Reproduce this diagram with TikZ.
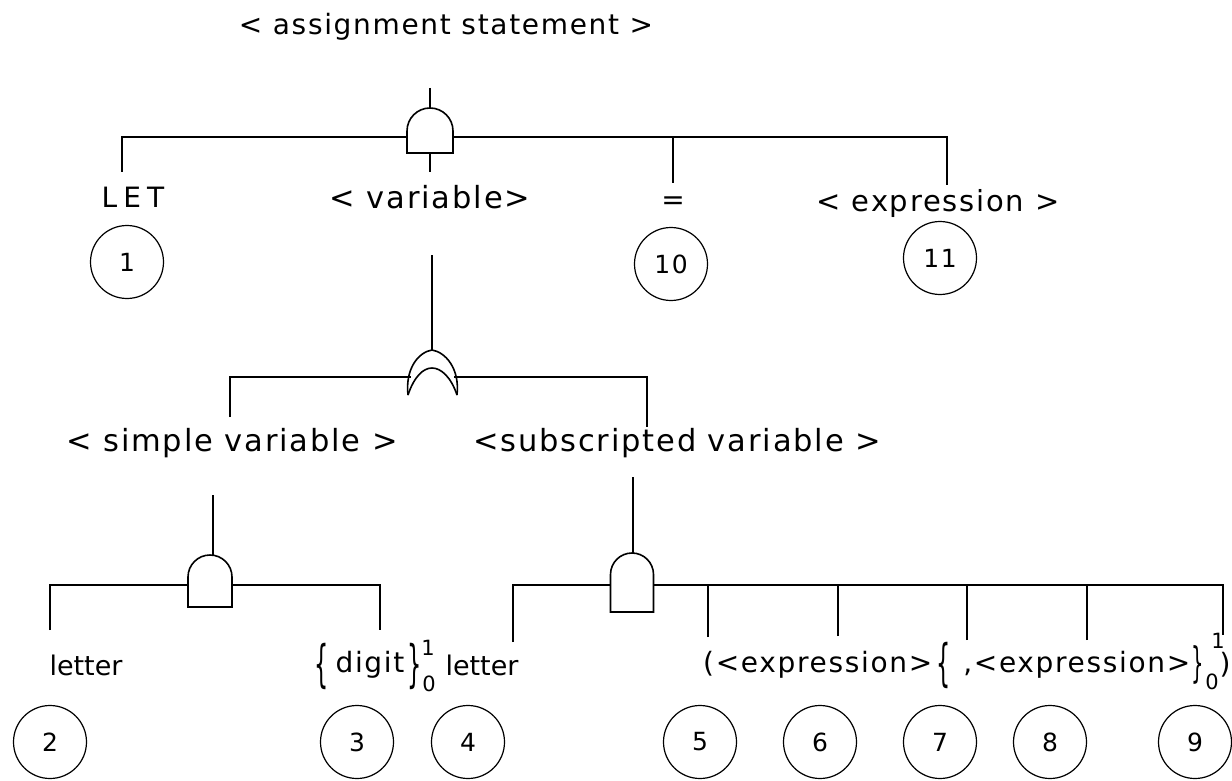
\documentclass[tikz,border=0pt]{standalone}
\usepackage{fontspec}
\setmainfont{DejaVu Sans}[LetterSpace=6]
\newfontfamily\wideface{DejaVu Sans}[LetterSpace=22]
\newfontfamily\tightface{DejaVu Sans}
\newcommand{\andgt}[4]{%
  \draw[gate] ({#1-#4},#3) -- ({#1-#4},{#2+#4})
    .. controls ({#1-#4},{#2+0.448*#4}) and ({#1-0.552*#4},#2) .. (#1,#2)
    .. controls ({#1+0.552*#4},#2) and ({#1+#4},{#2+0.448*#4}) .. ({#1+#4},{#2+#4})
    -- ({#1+#4},#3) -- cycle;}
\begin{document}
\begin{tikzpicture}[x=1pt,y=-1pt,
  lbl/.style={inner sep=0pt, font=\fontsize{28}{32}\selectfont},
  lbltight/.style={inner sep=0pt, font=\fontsize{27}{31}\tightface},
  lblbig/.style={inner sep=0pt, font=\fontsize{30.5}{34}\selectfont},
  supsub/.style={inner sep=0pt, font=\fontsize{21}{24}\selectfont},
  bracechar/.style={inner sep=0pt, font=\fontsize{28}{32}\selectfont},
  num/.style={circle, draw, minimum size=73pt, inner sep=0pt, line width=1.2pt, font=\fontsize{25}{30}\selectfont},
  gate/.style={line width=1.6pt},
  wire/.style={line width=1.6pt}]
\useasboundingbox (0,0) rectangle (1232,781);
% ---------- labels ----------
\node[lbl] (title) at (446,27) {< assignment statement >};
\node[inner sep=0pt, font=\fontsize{28}{32}\wideface] (let) at (133,197) {LET};
\node[lblbig] (var) at (430,197) {< variable>};
\node[lbl] (eq) at (673,203) {=};
\node[inner sep=0pt, font=\fontsize{29}{33}\selectfont] (expr) at (938,203) {< expression >};
\node[num] (c1) at (127,262) {1};
\node[num] (c10) at (671,264) {10};
\node[num] (c11) at (940,258) {11};
\node[lblbig] (simple) at (232,443) {< simple variable >};
\node[lblbig] (subs) at (677,443) {<subscripted variable >};
% bottom row
\coordinate (rowb) at (0,665);
\node[lbltight] (letter1) at (86,665) {letter};
\node[bracechar] (db1) at (322,666) {\scalebox{0.8}[1.8]{\{}};
\node[lbl] (digit) at (370,665) {digit};
\node[bracechar] (db2) at (415,666) {\scalebox{0.8}[1.8]{\}}};
\node[supsub] (dsup) at (428,648) {1};
\node[supsub] (dsub) at (429,684) {0};
\node[lbltight] (letter2) at (482,665) {letter};
\node[lbl, anchor=west] (sx1) at (703,665) {(<expression>};
\node[bracechar, anchor=west, xshift=4pt] (sb1) at (sx1.east |- rowb) {\scalebox{0.8}[1.8]{\{}};
\node[lbl, anchor=west, xshift=12pt] (sx2) at (sb1.east |- rowb) {,<expression>};
\node[bracechar, anchor=west, xshift=1pt] (sb2) at (sx2.east |- rowb) {\scalebox{0.7}[1.5]{\}}};
\node[supsub] (ssup) at (1218,641) {1};
\node[supsub] (ssub) at (1212,682) {0};
\node[lbl] (sclose) at (1225,665) {)};
\node[num] (c2) at (50,742) {2};
\node[num] (c3) at (357,742) {3};
\node[num] (c4) at (468,742) {4};
\node[num] (c5) at (700,742) {5};
\node[num] (c6) at (820,742) {6};
\node[num] (c7) at (940,742) {7};
\node[num] (c8) at (1050,742) {8};
\node[num] (c9) at (1195,742) {9};
% ---------- top AND gate ----------
\andgt{430}{108}{153}{23}
\coordinate (tgTop) at (430,88);
\coordinate (tgDome) at (430,108);
\coordinate (tgBot) at (430,153);
\coordinate (tgOut) at (430,172);
\coordinate (tgL) at (407,137);
\coordinate (tgR) at (453,137);
\coordinate (letEnd) at (122,172);
\coordinate (eqEnd) at (673,183);
\coordinate (exEnd) at (947,185);
\draw[wire] (tgTop) -- (tgDome);
\draw[wire] (tgBot) -- (tgOut);
\draw[wire] (letEnd) |- (tgL);
\draw[wire] (tgR) -| (exEnd);
\draw[wire] (eqEnd) -- (eqEnd |- tgR);
% ---------- OR gate ----------
\coordinate (varEnd) at (432,255);
\coordinate (orTop) at (432,350);
\draw[gate] (408,395) .. controls (405,368) and (419,352) .. (orTop)
  .. controls (445,352) and (460,368) .. (457,395);
\draw[gate] (408,395) .. controls (414,377) and (423,368) .. (432,368)
  .. controls (441,368) and (451,377) .. (457,395);
\draw[wire] (varEnd) -- (orTop);
\coordinate (orL) at (411,377);
\coordinate (orR) at (454,377);
\coordinate (simEnd) at (230,417);
\coordinate (subEnd) at (647,427);
\draw[wire] (simEnd) |- (orL);
\draw[wire] (orR) -| (subEnd);
% ---------- simple variable AND gate ----------
\andgt{210}{555}{607}{22}
\coordinate (sgIn) at (213,495);
\coordinate (sgTop) at (213,555);
\coordinate (sgL) at (188,585);
\coordinate (sgR) at (232,585);
\coordinate (l1End) at (50,630);
\coordinate (dgEnd) at (380,630);
\draw[wire] (sgIn) -- (sgTop);
\draw[wire] (l1End) |- (sgL);
\draw[wire] (sgR) -| (dgEnd);
% ---------- subscripted variable AND gate ----------
\andgt{632}{553}{612}{21.5}
\coordinate (bgIn) at (633,477);
\coordinate (bgTop) at (633,553);
\coordinate (bgL) at (610.5,585);
\coordinate (bgR) at (653.5,585);
\coordinate (l2End) at (513,642);
\coordinate (e5End) at (708,637);
\coordinate (e6End) at (838,636);
\coordinate (e7End) at (967,640);
\coordinate (e8End) at (1087,640);
\coordinate (e9End) at (1223,635);
\draw[wire] (bgIn) -- (bgTop);
\draw[wire] (l2End) |- (bgL);
\draw[wire] (bgR) -| (e9End);
\draw[wire] (e5End) -- (e5End |- bgR);
\draw[wire] (e6End) -- (e6End |- bgR);
\draw[wire] (e7End) -- (e7End |- bgR);
\draw[wire] (e8End) -- (e8End |- bgR);
\end{tikzpicture}
\end{document}
